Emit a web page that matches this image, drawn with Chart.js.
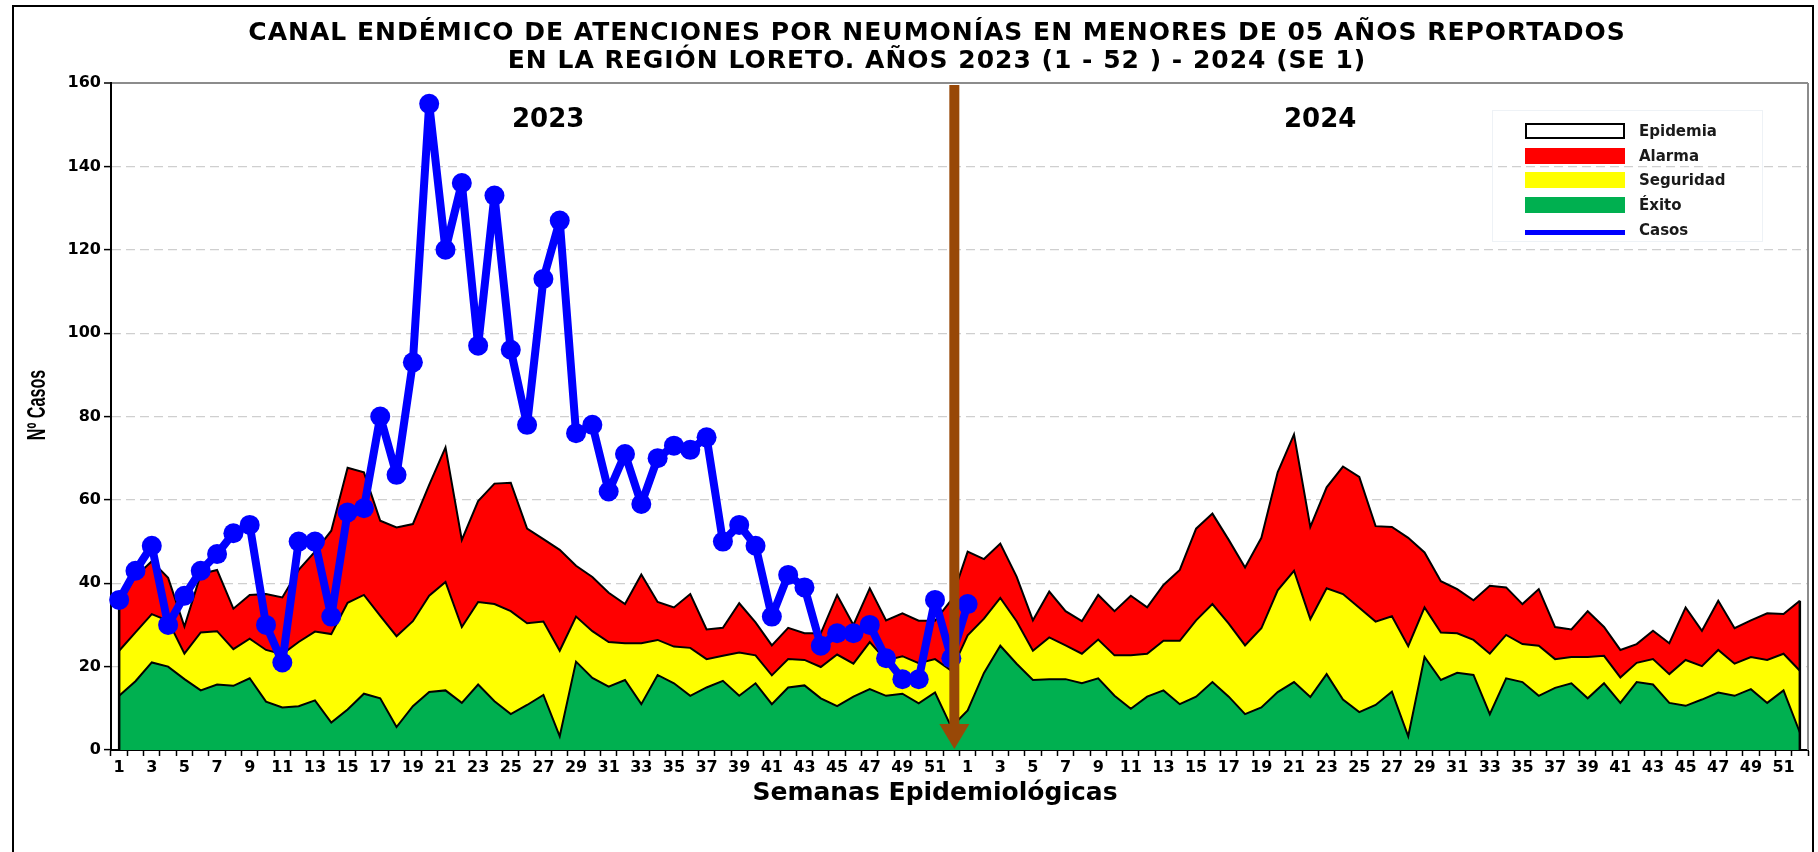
<!DOCTYPE html>
<html>
<head>
<meta charset="utf-8">
<script src="https://cdn.jsdelivr.net/npm/chart.js@4.4.1/dist/chart.umd.min.js"></script>
<style>
  html, body { margin: 0; padding: 0; background: #fff; }
  #wrap { position: relative; width: 1818px; height: 852px; overflow: hidden; }
  #frame { position: absolute; left: 12px; top: 5px; width: 1802px; height: 900px; border: 2px solid #000; box-sizing: border-box; pointer-events: none; }
  .txt { position: absolute; font-family: 'DejaVu Sans', sans-serif; font-weight: bold; color: #000; white-space: nowrap; }
  #title { left: 0; width: 1874px; top: 18px; text-align: center; font-size: 25px; line-height: 28px; letter-spacing: 1px; }
  #xTitle { left: 0; width: 1870px; top: 777px; text-align: center; font-size: 25px; }
  #yTitle { left: 36px; top: 405px; font-family: 'Liberation Sans', Arial, sans-serif; font-size: 26px; transform: translate(-50%, -50%) rotate(-90deg) scaleX(0.62); }
  .year { font-size: 26px; top: 103px; }
  #legend { position: absolute; left: 1492px; top: 110px; width: 271px; height: 132px; border: 1px solid #eef2f6; box-sizing: border-box; }
  .sw { position: absolute; left: 32px; width: 100px; height: 16px; box-sizing: border-box; }
  .lt { position: absolute; left: 146px; font-family: 'DejaVu Sans', sans-serif; font-weight: bold; font-size: 15px; line-height: 18px; color: #1a1a1a; }
</style>
</head>
<body>
<div id="wrap">
  <canvas id="canalChart" width="1818" height="852"></canvas>
  <div id="frame"></div>
  <div id="title" class="txt">CANAL ENDÉMICO DE ATENCIONES POR NEUMONÍAS EN MENORES DE 05 AÑOS REPORTADOS<br>EN LA REGIÓN LORETO. AÑOS 2023 (1 - 52 ) - 2024 (SE 1)</div>
  <div id="xTitle" class="txt">Semanas Epidemiológicas</div>
  <div id="yTitle" class="txt">Nº Casos</div>
  <div class="txt year" style="left:512px;">2023</div>
  <div class="txt year" style="left:1284px;">2024</div>
  <div id="legend">
    <div class="sw" style="top:12px;background:#fff;border:2px solid #000;"></div>
    <div class="lt" style="top:11px;">Epidemia</div>
    <div class="sw" style="top:37px;background:#ff0000;"></div>
    <div class="lt" style="top:36px;">Alarma</div>
    <div class="sw" style="top:61px;background:#ffff00;"></div>
    <div class="lt" style="top:60px;">Seguridad</div>
    <div class="sw" style="top:86px;background:#00b050;"></div>
    <div class="lt" style="top:85px;">Éxito</div>
    <div class="sw" style="top:119px;height:5px;background:#0000ff;"></div>
    <div class="lt" style="top:110px;">Casos</div>
  </div>
</div>
<script>
// semanas epidemiologicas (same list for 2023 and 2024)
const semanas = ['1','2','3','4','5','6','7','8','9','10','11','12','13','14','15','16','17','18','19','20',
  '21','22','23','24','25','26','27','28','29','30','31','32','33','34','35','36','37','38','39','40',
  '41','42','43','44','45','46','47','48','49','50','51','52'];

// upper limit of each zone of the endemic channel
const exito2023 = [13, 16.5, 21, 20, 17, 14.3, 15.7, 15.4, 17.2, 11.6, 10.2, 10.5, 11.9, 6.6, 9.7, 13.5, 12.4, 5.5, 10.5, 13.9,
  14.3, 11.3, 15.7, 11.7, 8.6, 10.8, 13.2, 3.3, 21.2, 17.3, 15.2, 16.8, 11, 18, 16, 13, 15, 16.6, 13, 16,
  11, 15, 15.5, 12.4, 10.5, 12.8, 14.6, 13, 13.5, 11.2, 13.8, 5.5];
const exito2024 = [9.5, 18.5, 25, 20.7, 16.8, 17, 17, 16, 17.2, 13, 9.9, 12.8, 14.3, 11, 12.8, 16.3, 12.8, 8.6, 10.2, 13.9,
  16.3, 12.7, 18.2, 12.1, 9.1, 10.8, 14, 3.3, 22.3, 16.8, 18.5, 18, 8.6, 17.2, 16.3, 13, 14.9, 16, 12.4, 16,
  11.3, 16.3, 15.7, 11.3, 10.6, 12.1, 13.8, 13, 14.6, 11.3, 14.3, 4.2];

const seguridad2023 = [23.8, 28.2, 32.6, 31, 23.1, 28.2, 28.5, 24.2, 26.7, 24, 23, 25.9, 28.4, 27.8, 35.3, 37.2, 32.2, 27.3, 30.9, 37,
  40.3, 29.5, 35.5, 35, 33.3, 30.4, 30.8, 23.8, 32, 28.5, 25.9, 25.6, 25.6, 26.4, 24.8, 24.5, 21.8, 22.6, 23.4, 22.7,
  17.9, 21.8, 21.6, 19.9, 22.9, 20.7, 25.9, 21.5, 22.5, 20.8, 21.8, 19];
const seguridad2024 = [27.5, 31.5, 36.5, 30.9, 23.8, 27, 25.1, 23.1, 26.5, 22.7, 22.7, 23.1, 26.2, 26.2, 31.1, 35, 30.3, 25.1, 29.2, 38.3,
  43, 31.4, 38.8, 37.4, 34.1, 30.8, 32.1, 24.9, 34.2, 28.2, 28, 26.4, 23.1, 27.6, 25.4, 25, 21.8, 22.3, 22.3, 22.6,
  17.4, 20.9, 21.8, 18.2, 21.6, 20.1, 24, 20.7, 22.3, 21.6, 23.1, 19];

const alarma2023 = [35, 41.6, 45.3, 41.3, 29.6, 42.2, 43.2, 33.9, 37.2, 37.4, 36.6, 43.2, 47.6, 52.6, 67.7, 66.6, 55, 53.4, 54.2, 63.6,
  72.6, 50.4, 59.7, 63.9, 64.1, 53.1, 50.6, 48, 44.2, 41.5, 37.7, 35, 42.1, 35.5, 34.2, 37.4, 28.9, 29.3, 35.2, 30.6,
  25.1, 29.3, 28, 28, 37.2, 30, 38.8, 31.1, 32.8, 31, 31, 36];
const alarma2024 = [47.6, 45.8, 49.5, 41.6, 31.1, 38, 33.3, 30.9, 37.2, 33.3, 37, 34.2, 39.6, 43.2, 53.1, 56.7, 50.4, 43.8, 50.9, 66.6,
  75.7, 53.5, 63, 68, 65.5, 53.7, 53.5, 50.9, 47.4, 40.5, 38.6, 35.9, 39.4, 39, 35, 38.6, 29.5, 28.9, 33.3, 29.5,
  24, 25.4, 28.6, 25.6, 34.2, 28.6, 35.8, 29.2, 31.1, 32.8, 32.6, 35.8];

// casos notificados
const casos2023 = [36, 43, 49, 30, 37, 43, 47, 52, 54, 30, 21, 50, 50, 32, 57, 58, 80, 66, 93, 155,
  120, 136, 97, 133, 96, 78, 113, 127, 76, 78, 62, 71, 59, 70, 73, 72, 75, 50, 54, 49,
  32, 42, 39, 25, 28, 28, 30, 22, 17, 17, 36, 22];
const casos2024 = [35];

const yTicks = [0, 20, 40, 60, 80, 100, 120, 140, 160];

const labels = semanas.concat(semanas);
const exito = exito2023.concat(exito2024);
const seguridad = seguridad2023.concat(seguridad2024);
const alarma = alarma2023.concat(alarma2024);
const casos = casos2023.concat(casos2024);

// arrow at end of 2023 + black edges of the channel + plot frame
const extrasPlugin = {
    id: 'extras',
    afterDatasetDraw(chart, args) {
        if (args.index !== 1) return;
        const ctx = chart.ctx;
        const x = chart.scales.x;
        const y = chart.scales.y;
        ctx.save();
        ctx.strokeStyle = '#000';
        ctx.lineWidth = 2.5;
        [0, labels.length - 1].forEach(function (i) {
            ctx.beginPath();
            ctx.moveTo(x.getPixelForValue(i), y.getPixelForValue(0));
            ctx.lineTo(x.getPixelForValue(i), y.getPixelForValue(alarma[i]));
            ctx.stroke();
        });
        ctx.restore();
    },
    afterDatasetsDraw(chart) {
        const ctx = chart.ctx;
        const area = chart.chartArea;
        const x = chart.scales.x;
        ctx.save();
        // right border of the plot
        ctx.strokeStyle = '#8c8c8c';
        ctx.lineWidth = 2;
        ctx.beginPath();
        ctx.moveTo(area.right, area.top);
        ctx.lineTo(area.right, area.bottom);
        ctx.stroke();
        // brown arrow
        const ax = x.getPixelForValue(casos2023.length - 1) + 3;
        ctx.fillStyle = '#984807';
        ctx.fillRect(ax - 5, area.top + 2, 10, area.bottom - area.top - 26);
        ctx.beginPath();
        ctx.moveTo(ax - 15, area.bottom - 26);
        ctx.lineTo(ax + 15, area.bottom - 26);
        ctx.lineTo(ax, area.bottom - 1);
        ctx.closePath();
        ctx.fill();
        ctx.restore();
    }
};

const ctx = document.getElementById('canalChart').getContext('2d');
new Chart(ctx, {
    type: 'line',
    data: {
        labels: labels,
        datasets: [
            {
                label: 'Casos',
                data: casos,
                order: 0,
                borderColor: '#0000ff',
                backgroundColor: '#0000ff',
                borderWidth: 8,
                borderJoinStyle: 'round',
                borderCapStyle: 'round',
                pointRadius: 10,
                pointBorderWidth: 0,
                pointBackgroundColor: '#0000ff',
                fill: false
            },
            {
                label: 'Éxito',
                data: exito,
                order: 1,
                borderColor: '#000',
                borderWidth: 2,
                pointRadius: 0,
                backgroundColor: '#00b050',
                fill: 'origin'
            },
            {
                label: 'Seguridad',
                data: seguridad,
                order: 2,
                borderColor: '#000',
                borderWidth: 2,
                pointRadius: 0,
                backgroundColor: '#ffff00',
                fill: '-1'
            },
            {
                label: 'Alarma',
                data: alarma,
                order: 3,
                borderColor: '#000',
                borderWidth: 2,
                pointRadius: 0,
                backgroundColor: '#ff0000',
                fill: '-1'
            }
        ]
    },
    options: {
        responsive: false,
        animation: false,
        devicePixelRatio: 1,
        layout: { padding: { top: 83, right: 10, left: 0, bottom: 0 } },
        elements: { line: { tension: 0 } },
        plugins: {
            legend: { display: false },
            tooltip: { enabled: false }
        },
        scales: {
            x: {
                offset: true,
                afterFit: function (scale) { scale.height = 102; },
                grid: {
                    offset: true,
                    drawOnChartArea: false,
                    drawTicks: true,
                    tickLength: 6,
                    tickColor: '#000',
                    tickWidth: 1.5
                },
                border: { color: '#000', width: 2 },
                ticks: {
                    autoSkip: false,
                    maxRotation: 0,
                    minRotation: 0,
                    padding: 2,
                    color: '#000',
                    font: { family: 'DejaVu Sans', weight: 'bold', size: 16 },
                    callback: function (val) {
                        const lab = this.getLabelForValue(val);
                        return Number(lab) % 2 === 1 ? lab : '';
                    }
                }
            },
            y: {
                min: yTicks[0],
                max: yTicks[yTicks.length - 1],
                afterFit: function (scale) { scale.width = 111; },
                afterBuildTicks: function (scale) {
                    scale.ticks = yTicks.map(function (v) { return { value: v }; });
                },
                grid: {
                    color: function (c) {
                        if (!c.tick) return '#000';
                        if (c.tick.value === 0) return 'rgba(0,0,0,0)';
                        if (c.tick.value === 160) return '#8c8c8c';
                        return '#cfcfcf';
                    },
                    lineWidth: function (c) { return c.tick && c.tick.value === 160 ? 2 : 1.2; },
                    tickLength: 7,
                    tickColor: '#000',
                    tickWidth: 1.5
                },
                border: {
                    color: '#000',
                    width: 2,
                    dash: function (c) {
                        return c.tick && c.tick.value > 0 && c.tick.value < 160 ? [9, 5] : [];
                    }
                },
                ticks: {
                    padding: 3,
                    color: '#000',
                    font: { family: 'DejaVu Sans', weight: 'bold', size: 16 }
                }
            }
        }
    },
    plugins: [extrasPlugin]
});
</script>
</body>
</html>
